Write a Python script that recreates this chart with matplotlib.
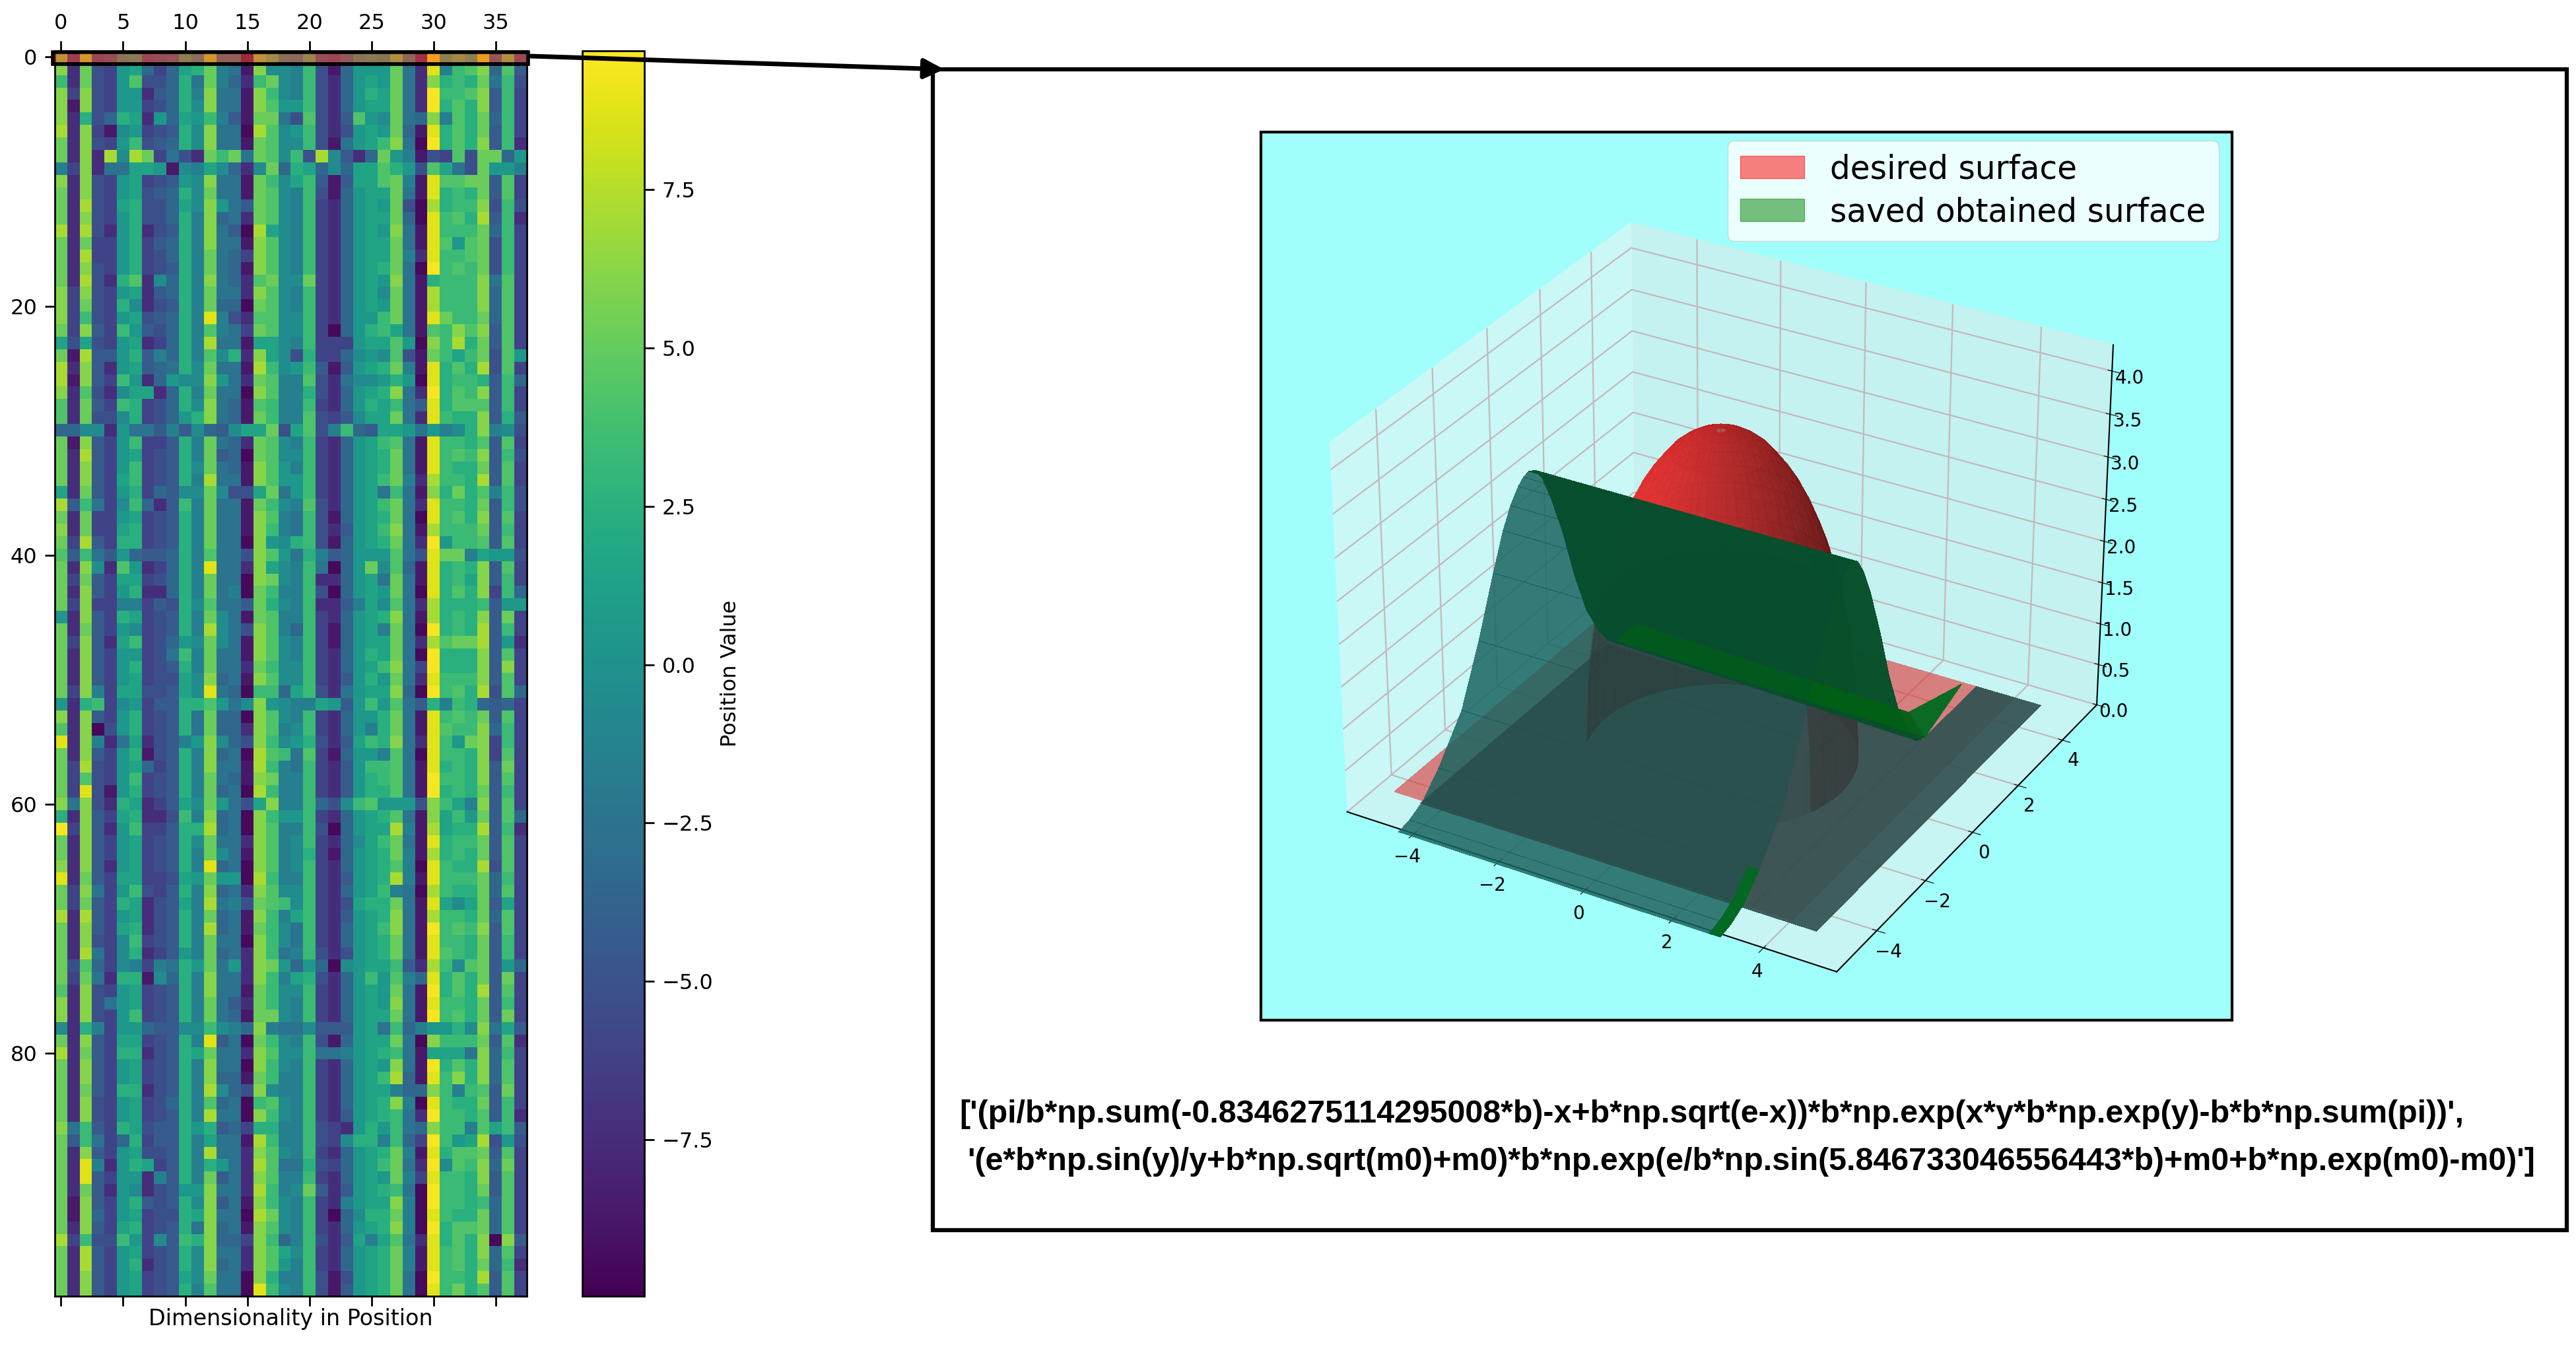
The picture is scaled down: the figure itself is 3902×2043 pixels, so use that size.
import numpy as np
import matplotlib
matplotlib.use('Agg')
import matplotlib.pyplot as plt
from matplotlib.patches import Rectangle, Patch, FancyArrowPatch

W, H = 3902, 2043

# heat map, one letter per cell, see level_values
position_rows = [
    "qcrde kldef mjrhh aqoji nedgk lkpib tmoms fpd",
    "qcped klgdg lmpih bqjji nebgk kkphc sinoq gof",
    "ncped koeeg mhpig cnpji necgk lkphc qmnmp hne",
    "qdqed kkcfg miqhh bqnji necgk mlphc tnnoq fnd",
    "qbqed kkdeg mjqhh bqokk necgk llphc tmomq fnd",
    "qcmeg mlckg lknif bpphe oecfo kjphg qiomp gnd",
    "rcqdb jkdef mjqhh arojk necek lkpgb smomp fnd",
    "pcqed knefg mjqhh bpojj nebhk lnqha tmomq fnc",
    "pcqcr jrpdh ecpnp hpojn erjfc gpkib edoep pgk",
    "idqch hllkb jiljg cjpgm lgjgl lomke olhep kki",
    "qcqed kldef kjqhh bpnjl nfbfl lopib soopp fod",
    "pcqed klefg mjphh bpoji nebgk llphb smnmp fod",
    "pcred lmeeg ljqkh fpoji ndcgk lkpea rmnnq ene",
    "pcqed kmeeg miqgh cpoji ndcgk llpga snomr fnc",
    "rcrec kmcef miqhf arlji ndcgk lkqhb snnnp gnd",
    "pcpdd kmdfg miqhh bqoji ndcgk llphb sokop end",
    "pcrdd kmdeg miphg dqoji ndcgk llpic snnop end",
    "pcqed kmdef miphg bqoji ndcgk lmpha tnonp end",
    "pcrec mocjg miqhg copjj pdcgk lkqhb mnnnq hod",
    "qdqed klcfg miphh cqoji ndcgk ljphb rnnnq god",
    "qdped mjcef mipgg apoji ndcgk lkphb rnnnq god",
    "qdned klefg misie coojj ndcgk knphb spnnp god",
    "pdqfd nkfeg mioih dpojj ndagk mnlhb onqoq fod",
    "leled klcdg mirhh bllji ndddk lloka qnrmp fod",
    "pbrff kmfig miojm cqlje mddgj kjoeb pnlnp eok",
    "rcqfc klfgh mjphh brnjk nfbfk lmpib smomr eod",
    "rbqfd nkcgk jjqkh cpoii oechj jkmka smnnm fng",
    "qcoec jllcg miphh aqoii mecgk lmqhc tmonq fnd",
    "ocpfd nmdeg mjqhg bonii ndcgk mlnhf smooo fnd",
    "ocpee jmdeg kmqhg bpnii oedfj llphc snmmq fmf",
    "ggjjc khhfi fjgfj llpel oeing fllkh kijmq ije",
    "pbqfd knddf miphg cpoji ndcgk lnohb snnmo fod",
    "pcrfd kldef mipfg apojj ndcgk lmphb snonq fne",
    "pcqfd kndef mjphg bqoki ndcgk lmphb snmmp fod",
    "pcqfd lndef mirhh bqokk ndcgk lnpic rnnmr fod",
    "lcpfd kmdgf jjpje elphk ndcgk lhnhb qmpmo ine",
    "rfnhd jngcf niphh bpnji oecgk lnphc snnmp fne",
    "pcpdd kldef miphh bqoih nebgk lmpha snomq fod",
    "qcpdd lmdef miphh bqnih necfk lnqhb rnnnp fnd",
    "pdrfd mmdef miphh aqkjm nebgk lmphc tknno fod",
    "ofnhf kgffg miohh eqokh mifgk kkohe sppil kke",
    "pcqjc okcdg mishh cqlji nhagk pjogb smnmq fod",
    "pdpfd lldeg miphh aqpji nccgk lhphb smnlq fnd",
    "pcqfd kmccg miphi apnii neagk lkpha smomq dng",
    "pdqdd iidfe mjohh fpmji nccfi ljohc rmmmn fkk",
    "kcqfd mldef mipjh bpoii ndcgk lmqhb rmnmq fpd",
    "pcpfd kjdef mirjh eqoig ndbgk lipha tmnmr fnd",
    "pdqfc lndeg kjpjh bqoji ndbgk llphc roppr fkc",
    "pcqfd kkdeh niphh bqoji ndcgk mlpha tmmmq fod",
    "pcqfd kmdef miphh cpnjj ndcgk lnqhd tmmmq fqd",
    "pcqfd kldee ljqgh bqojj ndcfk mkphc snnnq fod",
    "pdqid lleef ljshg anngl nechk llqga tnomr eog",
    "kcmnd jkdff mmokh jqkji ilkfk nkohf minmg fgd",
    "qcqfd kmdef mhpgg aqoji ndcgk kmphb snonp fod",
    "ocqae kmdef mhpgg cqoij ndcgk imphb sonnq gnd",
    "scqic hlcef ikqjg eqnjk mecfl nmqhc snkpq dnd",
    "pcqfd kmbef miqgh aronh odbgk kioha snnmq dod",
    "pdred klgdf miqhh brnih ndcfk nnohb smnmq fpd",
    "pdoed kndef miphg bqpii ndcfk mnohb tnnmq fod",
    "pdseb kmdef mipgh arnii ndcfk mmohb tmnmp fnd",
    "qhqec mlcdf ljpkh elqii ngejn okkke qnliq fod",
    "mcqfd lmcce niqgh aqnkk ndcgk lmohb qlnkp fog",
    "tdqfc knddf mmrgh aqoii neagk llrib rlmmr fnc",
    "pcqfd kldef mjphh cqoij ndcgj lnphb smnnp fod",
    "pcqfd kldef mipjh bqoij mdbgk lmpib rmnmp fod",
    "qcqfc kldef misgh aqoij ndcgk lmoia snmmr eod",
    "scpfd lldde lkpkk arnii ndcfk lmrib snnnp gnd",
    "pdqhd knedf miqgh cqojj ndcgk lniha rnmmp god",
    "pdpfd mlcef lirhi eponj ndcel mmphb sljlp fld",
    "rcrfd klcef mipgh bqnil ndcfk lmqhb rnnmp god",
    "pcqfd lmcef mirgh bpnjh ndcgk lnqhb tnonq fod",
    "pcqed jndef miphh aqnjh ndcgk lmphb snnmp fnd",
    "pcrhd jmcdf kipgh cqnhi necek lmphb sonmp fnd",
    "peogd jidih mkphk cqpkg kgajk llnfc rnjop fkg",
    "pdphc mmbjg miqhh cqnil mecgk nkoig smomp fpd",
    "ocqed kldef miqhh bpnjj ndcgk lkphb tmomr fod",
    "qcqeh kldef miphf cpnji ndcgk lkqhb snnmp fnd",
    "qcqed kndef miphg bppji ndcgk llphb tnomp fpd",
    "jcmid kkgff jjnji gqihh jfffk lhngi kkmjq hlf",
    "pcqfd lldef misfh apnji nebgk llpha qnnnp foc",
    "rcpfd mmcef mlphh cqojj nhhik lmnhb lllhq gnd",
    "pcqfd kldef miqhh aqnji ndcgk lkqhb tmomq god",
    "pcqfd kldef miqgg bpnii ndcgk lnrgb snqmq god",
    "pcpfd mmcef mirjg eqjii ndcgk lligg qnino fpd",
    "pcqed kldeg miogh anoji ndcgk lmqia snmmp fnd",
    "pcqed kldef mirhh aqnji ndcfk lmnhc tnnmo fnc",
    "qhnfd mleff mkmfg dmmii nedck mknhg qnnio lnf",
    "pfnhd gmdff milhh brnii nedjm mingd tnklr eke",
    "pcqfd kleef mirhh cqoji ndcgk lmpib smoop fod",
    "pcsic kmldf mimkh crohh medgk lnphc tjonq gpd",
    "pcsfd kkcif mipfh cqoii ndcgk lkpid snnmq fod",
    "pcpfc kjcef kkqhh crnij pfcfk lmnha tnnmp fod",
    "pbqfd kmfef mjqfh bqnji ndcik llqia tnnmn god",
    "pbqgd kldee mlqhh arpji ndagj mmpia snmmp god",
    "pcqfd lmdef mhqgh bqoji ndcgk lmqia tmoop god",
    "rdnee nkdjf nmqgg dqngi necfl ilohc smomq aqf",
    "pcrfd kldef mjqhh cqolj ndcgk lmpib snomq god",
    "pcrfd kmcef mjqgh cqoki ndcgk lmpib snomp gnc",
    "pcqfd kldef ljphh aqmii nebek lmpha tnnmr fod",
    "pcqfd kldef miohh asnji nebfk lmpha snpmo fod",
]
levels = "abcdefghijklmnopqrst"
level_values = [-9.5, -8.6, -7.4, -6.0, -5.2, -4.3, -3.4, -2.5, -1.5, -0.5,
                0.5, 1.5, 2.5, 3.4, 4.3, 5.2, 6.1, 7.1, 8.7, 9.4]
x_ticks = [0, 5, 10, 15, 20, 25, 30, 35]
y_ticks = [0, 20, 40, 60, 80]
cbar_ticks = [-7.5, -5, -2.5, 0, 2.5, 5, 7.5]

# surface profiles
ridge_x = [-4.3, 3.1]
sliver_x = [2.85, 3.1]
front_y = [-5.7, -5.3, -4.8, -4.2, -3.3, -2.6, -2.0, -1.6, -1.3, -1.0, -0.8, -0.6]
front_z = [0.0, 0.03, 0.12, 0.35, 0.8, 1.45, 2.1, 2.5, 2.72, 2.87, 2.93, 2.95]
back_y = [-0.6, -0.35, -0.1, 0.2, 0.65, 1.05, 1.5, 2.0, 2.35, 2.7]
back_z_left = [2.95, 2.9, 2.75, 2.45, 1.9, 1.3, 0.75, 0.35, 0.15, 0.05]
back_z_right = [2.95, 2.9, 2.72, 2.4, 1.8, 1.2, 0.65, 0.25, 0.05, 0.0]
# bright band above the trough and the curled corner at its right end
band_x = [[-4.3, 3.1], [-4.3, 2.5]]
band_y = [[2.7, 2.7], [3.5, 3.1]]
band_z = [[0.05, 0.0], [0.05, 0.1]]
curl_x = [[2.5, 3.1], [3.1, 3.1]]
curl_y = [[3.1, 2.7], [4.3, 4.3]]
curl_z = [[0.1, 0.0], [0.22, 0.22]]
dome_r = [0.1, 0.2, 0.4, 0.6, 0.8, 1.0, 1.2, 1.4, 1.6, 1.8, 2.0, 2.15, 2.3, 2.4, 2.5, 2.6, 2.7, 2.75, 2.8]
dome_z = [3.85, 3.84, 3.81, 3.76, 3.69, 3.6, 3.47, 3.33, 3.16, 2.95, 2.69, 2.47, 2.2, 1.98, 1.74, 1.43, 1.0, 0.72, 0.0]
dome_center = [-0.18, 0.0]
red_floor_x = [-5.2, 4.0]
red_floor_y = [-4.5, 5.0]
floor_main_x = [-4.5, 3.1]
floor_main_y = [-4.6, 2.6]
floor_side_x = [3.1, 4.6]
floor_side_y = [-4.6, 5.0]

formula_1 = "['(pi/b*np.sum(-0.8346275114295008*b)-x+b*np.sqrt(e-x))*b*np.exp(x*y*b*np.exp(y)-b*b*np.sum(pi))',"
formula_2 = "'(e*b*np.sin(y)/y+b*np.sqrt(m0)+m0)*b*np.exp(e/b*np.sin(5.846733046556443*b)+m0+b*np.exp(m0)-m0)']"


def box(x0, y0, x1, y1):
    # pixel box of the picture -> figure fractions
    return [x0 / W, 1 - y1 / H, (x1 - x0) / W, (y1 - y0) / H]


fig = plt.figure(figsize=(W / 100, H / 100), dpi=100, facecolor='white')

# heat map
data = np.array([[level_values[levels.index(c)] for c in row.replace(' ', '')] for row in position_rows])
ax = fig.add_axes(box(83, 77, 798, 1963))
im = ax.imshow(data, cmap='viridis', vmin=-9.97, vmax=9.69, aspect='auto', interpolation='nearest')
ax.set_xticks(x_ticks)
ax.set_yticks(y_ticks)
ax.tick_params(axis='x', top=True, labeltop=True, bottom=True, labelbottom=False, labelsize=23, length=11, width=2, pad=8)
ax.tick_params(axis='y', labelsize=23, length=11, width=2, pad=8)
ax.set_xlabel('Dimensionality in Position', fontsize=24, labelpad=2)
for s in ax.spines.values():
    s.set_linewidth(2)
ax.add_patch(Rectangle((-0.66, -0.37), 38.26, 0.93, facecolor=(1, 0.3, 0.13, 0.48), edgecolor='black', lw=4, clip_on=False, zorder=5))

cax = fig.add_axes(box(882, 77, 976, 1963))
cb = fig.colorbar(im, cax=cax, ticks=cbar_ticks)
cb.ax.tick_params(labelsize=23, length=11, width=2, pad=8)
cb.set_label('Position Value', fontsize=23, labelpad=8)
cb.outline.set_linewidth(2)

# frames
fig.add_artist(Rectangle((1413 / W, 1 - 1863 / H), 2475 / W, 1758 / H, facecolor='white', edgecolor='black', lw=4.5, zorder=-2))
fig.add_artist(Rectangle((1910 / W, 1 - 1545 / H), 1471 / W, 1345 / H, facecolor='#a0fffb', edgecolor='black', lw=3, zorder=-1))

# 3d panel, axes are always square
ax3 = fig.add_axes(box(1941, 235, 3261, 1555), projection='3d', computed_zorder=False)
ax3.patch.set_visible(False)
ax3.view_init(elev=30, azim=-60)
ax3.set_xlim(-5.6, 5.6)
ax3.set_ylim(-5.6, 5.6)
ax3.set_zlim(0, 4.3)
ax3.set_xticks([-4, -2, 0, 2, 4])
ax3.set_yticks([-4, -2, 0, 2, 4])
ax3.set_zticks([0, 0.5, 1, 1.5, 2, 2.5, 3, 3.5, 4])
ax3.tick_params(labelsize=20)
for a in (ax3.xaxis, ax3.yaxis, ax3.zaxis):
    a._axinfo['grid']['linewidth'] = 1.6
    a._axinfo['grid']['color'] = '#c4b8bc'
    a.line.set_linewidth(1.5)


def strip(xs, ys, z_left, z_right, **kw):
    X, Y = np.meshgrid(xs, ys)
    Z = np.column_stack([z_left, z_right])
    ax3.plot_surface(X, Y, Z, shade=False, linewidth=0, antialiased=False, **kw)


def flat(xs, ys, **kw):
    X, Y = np.meshgrid(xs, ys)
    ax3.plot_surface(X, Y, np.zeros_like(X), shade=False, linewidth=0, antialiased=False, **kw)


def quad(xs, ys, zs, **kw):
    ax3.plot_surface(np.array(xs), np.array(ys), np.array(zs), shade=False, linewidth=0, antialiased=False, **kw)


flat(red_floor_x, red_floor_y, color='#e03030', alpha=0.6, zorder=1)

theta = np.radians(np.arange(0, 362, 4))
R, T = np.meshgrid(dome_r, theta)
Zd = np.array([dome_z] * len(theta))
ax3.plot_surface(dome_center[0] + R * np.cos(T), dome_center[1] + R * np.sin(T), Zd,
                 color='#f03030', alpha=0.78, shade=True, linewidth=0, antialiased=False, zorder=2)

strip(ridge_x, front_y, front_z, front_z, color='#1f6e6c', alpha=0.8, zorder=3)

flat(floor_main_x, floor_main_y, color='#335252', alpha=0.93, zorder=4)
flat(floor_side_x, floor_side_y, color='#335252', alpha=0.93, zorder=4)

# back half of the dome shows dark through the floor and the ridge
back_theta = np.radians(np.arange(-20, 202, 4))
R, T = np.meshgrid(dome_r[14:], back_theta)
Zd = np.array([dome_z[14:]] * len(back_theta))
ax3.plot_surface(dome_center[0] + R * np.cos(T), dome_center[1] + R * np.sin(T), Zd,
                 color='#383838', alpha=0.6, shade=False, linewidth=0, antialiased=False, zorder=5)

strip(ridge_x, back_y, back_z_left, back_z_right, color='#07502a', alpha=0.98, zorder=6)
quad(band_x, band_y, band_z, color='#005f14', alpha=0.95, zorder=7)
quad(curl_x, curl_y, curl_z, color='#006a20', alpha=0.95, zorder=7)
strip(ridge_x, front_y, front_z, front_z, color='#0a4a40', alpha=0.22, zorder=8)
strip(sliver_x, front_y[:4], front_z[:4], front_z[:4], color='#006a20', alpha=0.95, zorder=9)

fig.legend(handles=[Patch(color='red', alpha=0.5), Patch(color='green', alpha=0.5)],
           labels=['desired surface', 'saved obtained surface'],
           loc='upper right', bbox_to_anchor=(3361 / W, 1 - 213 / H), fontsize=35, framealpha=0.8,
           labelspacing=0.35, borderpad=0.4, borderaxespad=0)

# arrow from the first row to the panel
fig.add_artist(FancyArrowPatch((804 / W, 1 - 85 / H), (1430 / W, 1 - 105 / H), transform=fig.transFigure,
                               arrowstyle='-|>', mutation_scale=45, lw=5, color='black',
                               shrinkA=0, shrinkB=0, zorder=10))

fig.text(1453 / W, 1 - 1688 / H, formula_1, fontsize=34.8, fontweight='bold', family='Liberation Sans', va='center')
fig.text(1465 / W, 1 - 1760 / H, formula_2, fontsize=34.8, fontweight='bold', family='Liberation Sans', va='center')

fig.savefig('out.png', dpi=100)
